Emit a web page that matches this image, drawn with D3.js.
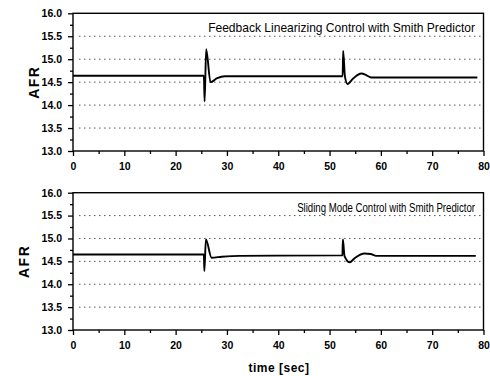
<!DOCTYPE html>
<html>
<head>
<meta charset="utf-8">
<script src="https://cdn.jsdelivr.net/npm/d3@7"></script>
<style>
  body { margin: 0; background: #fff; }
  svg { display: block; }
  .tick text { font-family: "Liberation Sans", Arial, sans-serif; font-weight: bold; font-size: 10.5px; fill: #000; }
  .tick line { stroke: #000; stroke-width: 1.3; }
  .domain { display: none; }
  .grid-line { stroke: #444; stroke-width: 0.9; stroke-dasharray: 1.5,3.5; }
  .frame { fill: none; stroke: #000; stroke-width: 1.4; }
  .signal { fill: none; stroke: #000; stroke-width: 1.9; stroke-linejoin: round; }
  .panel-title { font-family: "Liberation Sans", Arial, sans-serif; font-size: 12.5px; fill: #000; }
  .axis-label { font-family: "Liberation Sans", Arial, sans-serif; font-weight: bold; fill: #000; }
</style>
</head>
<body>
<div id="wrapper"></div>
<script>
// data
const xTickValues = [0, 10, 20, 30, 40, 50, 60, 70, 80]
const yTickValues = [13.0, 13.5, 14.0, 14.5, 15.0, 15.5, 16.0]
const gridValues = [13.5, 14.0, 14.5, 15.0, 15.5]

const flTitle = "Feedback Linearizing Control with Smith Predictor"
const flTime = [0, 25.5, 25.65, 25.95, 26.8, 28.0, 29.6, 52.55, 52.65, 53.0, 53.5, 54.6, 56.2, 57.2, 58.1, 78.8]
const flAfr  = [14.64, 14.64, 14.08, 15.22, 14.50, 14.58, 14.63, 14.63, 15.18, 14.62, 14.46, 14.58, 14.69, 14.65, 14.60, 14.60]

const smTitle = "Sliding Mode Control with Smith Predictor"
const smTime = [0, 25.5, 25.6, 25.9, 27.0, 29.0, 32.5, 52.5, 52.6, 52.9, 53.9, 55.0, 56.8, 58.0, 59.1, 78.5]
const smAfr  = [14.65, 14.65, 14.29, 14.98, 14.58, 14.60, 14.62, 14.63, 14.98, 14.62, 14.48, 14.58, 14.67, 14.66, 14.62, 14.62]

function drawChart() {
  // dimensions
  const dimensions = {
    width: 490,
    height: 376,
    left: 73,
    right: 483.5,
  }

  const panels = [
    { top: 13.3, bottom: 151, title: flTitle, titleWidth: 267, titleDy: 18.5, labelX: 34.5, time: flTime, afr: flAfr },
    { top: 192.7, bottom: 330, title: smTitle, titleWidth: 178, titleDy: 19.5, labelX: 24.5, time: smTime, afr: smAfr },
  ]

  const svg = d3.select("#wrapper").append("svg")
    .attr("width", dimensions.width)
    .attr("height", dimensions.height)

  const xScale = d3.scaleLinear()
    .domain([0, 80])
    .range([dimensions.left, dimensions.right])

  panels.forEach(p => {
    const yScale = d3.scaleLinear()
      .domain([13, 16])
      .range([p.bottom, p.top])

    const g = svg.append("g")

    // dotted grid
    g.selectAll(".grid-line")
      .data(gridValues)
      .enter().append("line")
      .attr("class", "grid-line")
      .attr("x1", dimensions.left + 6)
      .attr("x2", dimensions.right)
      .attr("y1", d => yScale(d))
      .attr("y2", d => yScale(d))

    // minor ticks
    g.append("g")
      .attr("transform", `translate(0, ${p.bottom})`)
      .call(d3.axisBottom(xScale).tickValues(d3.range(5, 80, 10)).tickSize(3).tickFormat(""))
    g.append("g")
      .attr("transform", `translate(${dimensions.left}, 0)`)
      .call(d3.axisLeft(yScale).tickValues(d3.range(13.25, 16, 0.5)).tickSize(3).tickFormat(""))

    // major ticks
    g.append("g")
      .attr("transform", `translate(0, ${p.bottom})`)
      .call(d3.axisBottom(xScale).tickValues(xTickValues).tickSize(5).tickPadding(7).tickFormat(d3.format("d")))
    g.append("g")
      .attr("transform", `translate(${dimensions.left}, 0)`)
      .call(d3.axisLeft(yScale).tickValues(yTickValues).tickSize(5).tickPadding(6).tickFormat(d3.format(".1f")))

    g.append("rect")
      .attr("class", "frame")
      .attr("x", dimensions.left)
      .attr("y", p.top)
      .attr("width", dimensions.right - dimensions.left)
      .attr("height", p.bottom - p.top)

    const lineGenerator = d3.line()
      .x((d, i) => xScale(p.time[i]))
      .y(d => yScale(d))
      .curve(d3.curveMonotoneX)

    g.append("path")
      .attr("class", "signal")
      .attr("d", lineGenerator(p.afr))

    // title squeezed horizontally to the width it has in the scan
    const title = g.append("text")
      .attr("class", "panel-title")
      .attr("text-anchor", "end")
      .text(p.title)
    const natural = title.node().getComputedTextLength()
    const sx = Math.min(1, p.titleWidth / natural)
    title.attr("transform", `translate(475, ${p.top + p.titleDy}) scale(${sx}, 1)`)

    g.append("text")
      .attr("class", "axis-label")
      .attr("transform", `translate(${p.labelX}, ${(p.top + p.bottom) / 2}) rotate(-90)`)
      .attr("text-anchor", "middle")
      .attr("dy", "0.35em")
      .style("font-size", "14px")
      .style("letter-spacing", "1.5px")
      .text("AFR")
  })

  svg.append("text")
    .attr("class", "axis-label")
    .attr("x", 279)
    .attr("y", 372)
    .attr("text-anchor", "middle")
    .style("font-size", "12px")
    .style("letter-spacing", "0.5px")
    .text("time [sec]")
}
drawChart()
</script>
</body>
</html>
